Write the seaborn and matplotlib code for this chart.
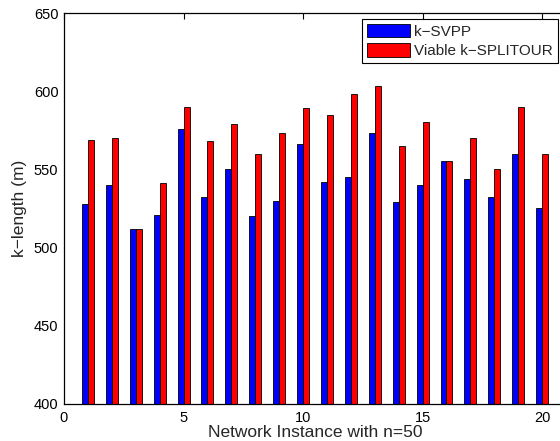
import numpy as np
import pandas as pd
import matplotlib
matplotlib.use("Agg")
import matplotlib.pyplot as plt
import seaborn as sns

# k-length per network instance (n = 50)
instances = list(range(1, 21))
svpp = [528, 540, 512, 521, 576, 532, 550, 520, 530, 566,
        542, 545, 573, 529, 540, 555, 544, 532, 560, 525]
splitour = [569, 570, 512, 541, 590, 568, 579, 560, 573, 589,
            585, 598, 603, 565, 580, 555, 570, 550, 590, 560]
series_names = ["k\u2212SVPP", "Viable k\u2212SPLITOUR"]
series_colors = ["#0000ff", "#ff0000"]
x_ticks = [0, 5, 10, 15, 20]
y_ticks = [400, 450, 500, 550, 600, 650]

df = pd.DataFrame({
    "instance": instances * 2,
    "length": svpp + splitour,
    "method": [series_names[0]] * len(instances) + [series_names[1]] * len(instances),
})

sns.set_style("white")
plt.rcParams["font.family"] = ["Liberation Sans", "DejaVu Sans"]

fig = plt.figure(figsize=(5.6, 4.41), dpi=100)
ax = fig.add_axes([64 / 560, 37.3 / 441, (566 - 64) / 560, (403.7 - 13) / 441])

sns.barplot(data=df, x="instance", y="length", hue="method",
            native_scale=True, width=0.5, gap=0.0,
            palette=series_colors, edgecolor="black", linewidth=0.6,
            errorbar=None, saturation=1, ax=ax)

ax.set_xlim(0, 21)
ax.set_ylim(400, 650)
ax.set_xticks(x_ticks)
ax.set_xticklabels([str(t) for t in x_ticks])
ax.set_yticks(y_ticks)
ax.set_yticklabels([str(t) for t in y_ticks])
ax.tick_params(direction="in", length=4, width=0.8, top=True, right=True,
               labelsize=10.5, colors="black")
ax.tick_params(axis="x", pad=5)
ax.tick_params(axis="y", pad=4)
for s in ax.spines.values():
    s.set_visible(True)
    s.set_color("black")
    s.set_linewidth(0.9)

ax.set_xlabel("Network Instance with n=50", fontsize=12.5, labelpad=0)
ax.set_ylabel("k\u2212length (m)", fontsize=12.5, labelpad=5)

leg = ax.legend(loc="upper right", bbox_to_anchor=(557.7 / 560, 1 - 19 / 441),
                bbox_transform=fig.transFigure, borderaxespad=0,
                fontsize=11, frameon=True, fancybox=False, framealpha=1,
                edgecolor="black", handlelength=2.8, handleheight=1.0,
                handletextpad=0.3, labelspacing=0.3, borderpad=0.3, title=None)
leg.get_frame().set_linewidth(0.8)

fig.savefig("out.png", dpi=100)
